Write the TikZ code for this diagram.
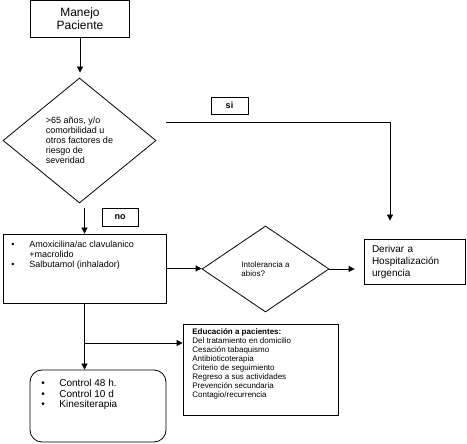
\documentclass[tikz,border=0pt]{standalone}
\usepackage{fontspec}
\setmainfont{Liberation Sans}
\usetikzlibrary{shapes.geometric, arrows.meta, positioning}

\newcommand{\fsz}[2]{\fontsize{#1}{#2}\selectfont}

\begin{document}
\begin{tikzpicture}[x=1pt, y=-1pt, line width=0.8pt,
  >={Triangle[length=6pt, width=6pt]},
  box/.style={draw, rectangle, inner sep=0pt},
  decision/.style={draw, diamond, inner sep=0pt, align=left},
  tag/.style={draw, rectangle, inner sep=0pt, font=\fsz{9}{10}\bfseries},
  txt/.style={anchor=north west, inner sep=0pt, align=left}]

\useasboundingbox (0,0) rectangle (467,444);

% boxes and decisions
\node[box, minimum width=99pt, minimum height=37pt, align=center, font=\fsz{12}{12.5}] (manejo) at (80,18.5) {Manejo\\Paciente};
\node[decision, minimum width=153pt, minimum height=125pt, font=\fsz{9}{10}] (edad) at (79.5,140.5) {>65 años, y/o\\comorbilidad u\\otros factores de\\riesgo de\\severidad};
\node[tag, minimum width=37pt, minimum height=17pt] (si) at (229.5,105.5) {si};
\node[tag, minimum width=36pt, minimum height=18pt] (no) at (120,217) {no};

\node[box, minimum width=163pt, minimum height=69pt] (trat) at (84.5,268.5) {};
\node[txt, font=\fsz{9}{10}] (tratTxt) at (11,240.5) {%
  \begin{tabular}{@{}p{18pt}@{}l@{}}
  \textbullet & Amoxicilina/ac clavulanico\\
              & +macrolido\\
  \textbullet & Salbutamol (inhalador)
  \end{tabular}};

\node[decision, minimum width=127pt, minimum height=86pt, font=\fsz{8}{9}] (abio) at (265.5,269) {Intolerancia a\\abios?};
\node[box, text width=85pt, inner xsep=8pt, minimum height=45pt, align=left, font=\fsz{10}{12}] (deriv) at (414.5,261.5) {Derivar a\\Hospitalización\\urgencia};

\node[box, minimum width=155pt, minimum height=91pt] (educ) at (260.5,369.5) {};
\node[txt, font=\fsz{8}{9}] (educTxt) at (192,328) {\textbf{Educación a pacientes:}\\Del tratamiento en domicilio\\Cesación tabaquismo\\Antibioticoterapia\\Criterio de seguimiento\\Regreso a sus actividades\\Prevención secundaria\\Contagio/recurrencia};

\node[box, rounded corners=12pt, minimum width=136pt, minimum height=72pt] (ctrl) at (98,406) {};
\node[txt, font=\fsz{10}{10.5}] (ctrlTxt) at (41,379) {%
  \begin{tabular}{@{}p{18pt}@{}l@{}}
  \textbullet & Control 48 h.\\
  \textbullet & Control 10 d\\
  \textbullet & Kinesiterapia
  \end{tabular}};

% connectors
\coordinate (siA) at (166,122);
\coordinate (siB) at (390,122);
\coordinate (noA) at (84.5,208);
\coordinate (br) at (84.5,343);

\draw[->, shorten >=5pt] (manejo.south) -- (manejo.south |- edad.north);
\draw[->, shorten >=18pt] (siA) -- (siB) -- (siB |- deriv.north);
\draw[->] (noA) -- (trat.north);
\draw[->] (trat.east) -- (trat.east -| abio.west);
\draw[->, shorten >=9pt] (abio.east) -- (abio.east -| deriv.west);
\draw[->] (trat.south) -- (trat.south |- ctrl.north);
\draw[->] (br) -- (br -| educ.west);
\end{tikzpicture}
\end{document}
